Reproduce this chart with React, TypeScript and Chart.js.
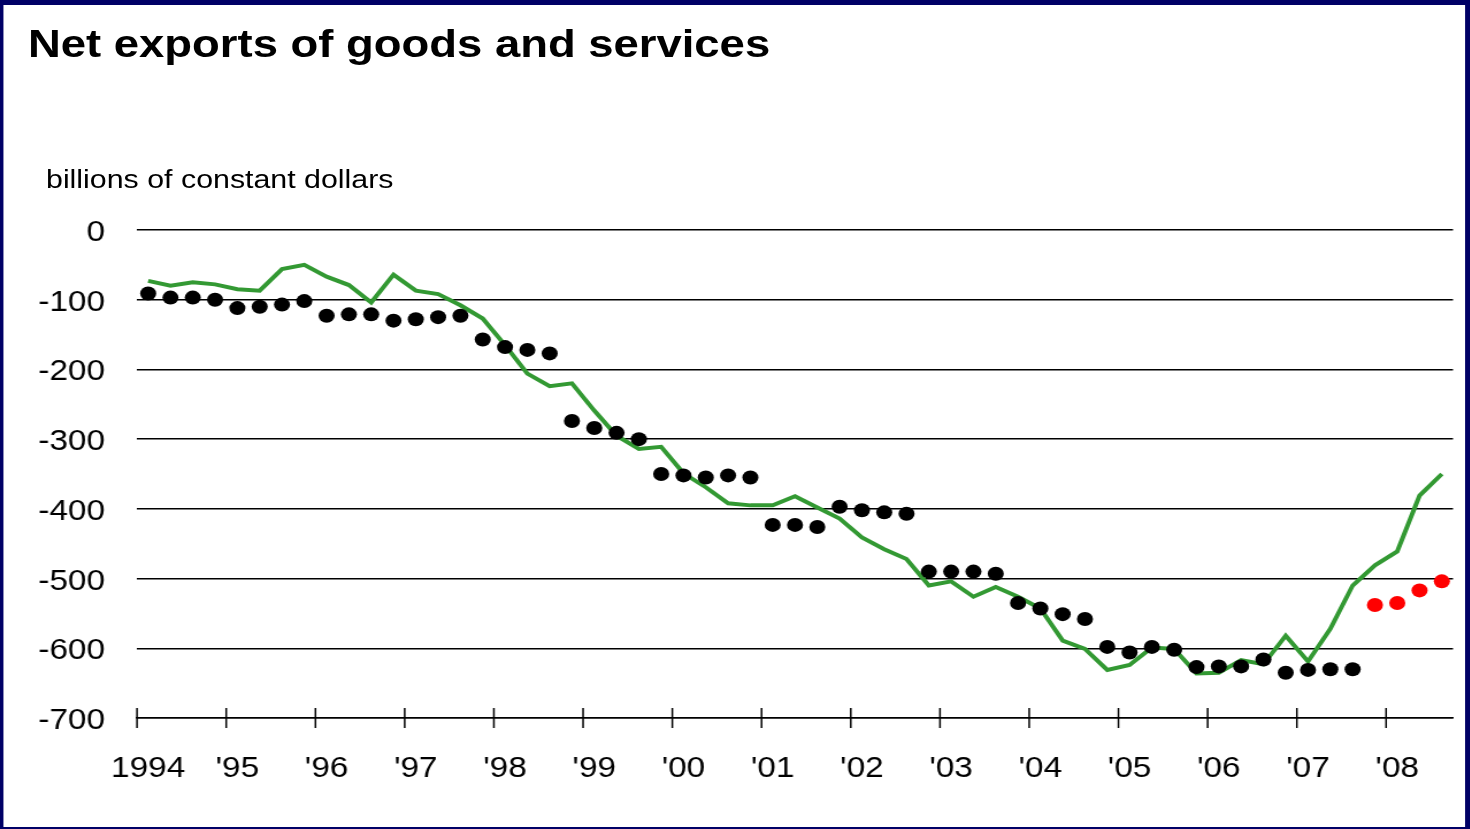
import React, { useEffect, useRef } from 'react';
import { Chart, registerables } from 'chart.js';

Chart.register(...registerables);

// ---- data ----
const years = ['1994', "'95", "'96", "'97", "'98", "'99", "'00", "'01", "'02", "'03", "'04", "'05", "'06", "'07", "'08"];
const quarterNames = ['Q1', 'Q2', 'Q3', 'Q4'];

// actual net exports (green line), quarterly 1994Q1 - 2008Q3
const actual = [
  -73, -80, -75, -78,
  -85, -87, -56, -50,
  -67, -79, -104, -64,
  -87, -92, -108, -127,
  -165, -206, -224, -220,
  -259, -295, -314, -311,
  -349, -369, -392, -395,
  -395, -382, -398, -414,
  -441, -458, -472, -510,
  -504, -526, -512, -526,
  -543, -589, -601, -631,
  -624, -599, -601, -636,
  -635, -617, -623, -582,
  -619, -572, -510, -481,
  -461, -381, -350,
];

// black forecast dots, 1994Q1 - 2007Q3
const forecastBlack = [
  -91, -97, -97, -100,
  -112, -110, -107, -102,
  -123, -121, -121, -130,
  -128, -125, -123, -157,
  -168, -172, -177, -274,
  -284, -291, -300, -350,
  -352, -355, -352, -355,
  -423, -423, -426, -397,
  -402, -405, -407, -490,
  -490, -490, -493, -535,
  -543, -551, -558, -598,
  -606, -598, -602, -627,
  -626, -626, -616, -635,
  -631, -630, -630,
];

// red forecast dots, 2007Q4 - 2008Q3
const forecastRed = [-538, -535, -517, -504];

const yTicks = [0, -100, -200, -300, -400, -500, -600, -700];

// ---- derived ----
const categories = years
  .flatMap((y) => quarterNames.map((q) => `${y} ${q}`))
  .slice(0, actual.length);

const blackData = categories.map((_, i) => (i < forecastBlack.length ? forecastBlack[i] : null));
const redData = categories.map((_, i) => {
  const k = i - forecastBlack.length;
  return k >= 0 && k < forecastRed.length ? forecastRed[k] : null;
});

// ---- layout (the whole slide is stretched horizontally) ----
const STRETCH = 1.15;
const VIEW_W = 1470;
const VIEW_H = 829;
const INNER_W = Math.round(VIEW_W / STRETCH);

const FONT = '"Liberation Sans", Arial, sans-serif';

const yearTickPlugin = {
  id: 'yearTicks',
  afterDraw(chart: any) {
    const xs = chart.scales.x;
    const { ctx, chartArea } = chart;
    const half = (xs.getPixelForValue(1) - xs.getPixelForValue(0)) / 2;
    ctx.save();
    ctx.strokeStyle = '#000';
    ctx.lineWidth = 1.5;
    categories.forEach((_, i) => {
      if (i % 4 !== 0) return;
      const px = xs.getPixelForValue(i) - half;
      ctx.beginPath();
      ctx.moveTo(px, chartArea.bottom - 10);
      ctx.lineTo(px, chartArea.bottom + 10);
      ctx.stroke();
    });
    ctx.restore();
  },
};

export default function App() {
  const canvasRef = useRef<HTMLCanvasElement | null>(null);

  useEffect(() => {
    const canvas = canvasRef.current;
    if (!canvas) return;
    const chart = new Chart(canvas, {
      type: 'line',
      data: {
        labels: categories,
        datasets: [
          {
            label: 'Forecast',
            data: blackData,
            showLine: false,
            pointRadius: 7,
            pointHoverRadius: 7,
            pointBackgroundColor: '#000',
            pointBorderWidth: 0,
            borderColor: '#000',
            order: 1,
          },
          {
            label: 'Forecast (latest)',
            data: redData,
            showLine: false,
            pointRadius: 7,
            pointHoverRadius: 7,
            pointBackgroundColor: '#ff0000',
            pointBorderWidth: 0,
            borderColor: '#ff0000',
            order: 1,
          },
          {
            label: 'Actual',
            data: actual,
            borderColor: '#339933',
            borderWidth: 4,
            pointRadius: 0,
            tension: 0,
            fill: false,
            order: 2,
          },
        ],
      },
      options: {
        responsive: false,
        animation: false,
        events: [],
        layout: { padding: { top: 230, bottom: 0, left: 0, right: INNER_W - 1453 / STRETCH } },
        plugins: {
          legend: { display: false },
          tooltip: { enabled: false },
          title: { display: false },
        },
        scales: {
          x: {
            type: 'category',
            offset: true,
            grid: { display: false, drawTicks: true, tickLength: 34, offset: true },
            border: { display: true, color: '#000', width: 1.5 },
            ticks: {
              autoSkip: false,
              maxRotation: 0,
              minRotation: 0,
              padding: 0,
              color: '#000',
              font: { family: FONT, size: 29 },
              callback: (_v: any, i: number) => (i % 4 === 0 ? years[i / 4] : ''),
            },
            afterFit: (scale: any) => {
              scale.height = VIEW_H - 718;
            },
          },
          y: {
            min: -700,
            max: 0,
            afterBuildTicks: (scale: any) => {
              scale.ticks = yTicks.map((v) => ({ value: v }));
            },
            grid: { color: '#000', lineWidth: 1.5, drawTicks: false },
            border: { display: false },
            ticks: {
              padding: 137 / STRETCH - 105 / STRETCH,
              labelOffset: 3,
              color: '#000',
              font: { family: FONT, size: 29 },
            },
            afterFit: (scale: any) => {
              scale.width = 137 / STRETCH;
            },
          },
        },
      },
      plugins: [yearTickPlugin],
    });
    return () => chart.destroy();
  }, []);

  return (
    <div style={{ position: 'fixed', left: 0, top: 0, width: VIEW_W, height: VIEW_H, background: '#000066', overflow: 'hidden' }}>
      <div
        style={{
          position: 'absolute',
          left: 0,
          top: 0,
          width: INNER_W,
          height: VIEW_H,
          transform: `scaleX(${STRETCH})`,
          transformOrigin: '0 0',
        }}
      >
        <div
          style={{
            position: 'absolute',
            left: 4 / STRETCH,
            top: 5,
            width: (1465 - 4) / STRETCH,
            height: 822,
            background: '#fff',
          }}
        />
        <canvas
          ref={canvasRef}
          width={INNER_W}
          height={VIEW_H}
          style={{ position: 'absolute', left: 0, top: 0, width: INNER_W, height: VIEW_H }}
        />
        <div
          style={{
            position: 'absolute',
            left: 28 / STRETCH,
            top: 57 - 0.8465 * 39.5,
            font: `bold 39.5px ${FONT}`,
            lineHeight: 1,
            whiteSpace: 'nowrap',
            color: '#000',
          }}
        >
          Net exports of goods and services
        </div>
        <div
          style={{
            position: 'absolute',
            left: 46 / STRETCH,
            top: 188 - 0.8465 * 26.4,
            font: `26.4px ${FONT}`,
            lineHeight: 1,
            whiteSpace: 'nowrap',
            color: '#000',
          }}
        >
          billions of constant dollars
        </div>
      </div>
    </div>
  );
}
